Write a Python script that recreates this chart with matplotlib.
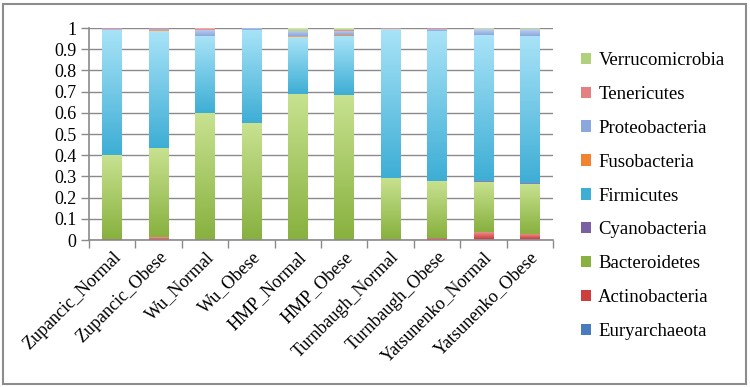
import matplotlib
matplotlib.use('Agg')
import matplotlib.pyplot as plt
import numpy as np
from matplotlib.colors import LinearSegmentedColormap
from matplotlib.patches import Rectangle, Patch

plt.rcParams['font.family'] = ['Liberation Serif', 'DejaVu Serif']

# samples (x axis)
samples = ['Zupancic_Normal', 'Zupancic_Obese', 'Wu_Normal', 'Wu_Obese',
           'HMP_Normal', 'HMP_Obese', 'Turnbaugh_Normal', 'Turnbaugh_Obese',
           'Yatsunenko_Normal', 'Yatsunenko_Obese']

# relative abundance of each phylum, bottom of the stack first
euryarchaeota = [0, 0, 0, 0, 0, 0, 0, 0, 0.003, 0.003]
actinobacteria = [0.005, 0.012, 0.002, 0.002, 0.001, 0.001, 0.004, 0.010, 0.035, 0.025]
bacteroidetes = [0.395, 0.423, 0.598, 0.548, 0.689, 0.684, 0.290, 0.270, 0.237, 0.237]
cyanobacteria = [0, 0, 0, 0, 0, 0, 0, 0, 0.002, 0.002]
firmicutes = [0.590, 0.550, 0.360, 0.440, 0.268, 0.278, 0.700, 0.705, 0.688, 0.694]
fusobacteria = [0, 0.004, 0, 0, 0.002, 0.005, 0, 0, 0.003, 0.003]
proteobacteria = [0.004, 0.006, 0.033, 0.010, 0.028, 0.020, 0.001, 0.010, 0.028, 0.030]
tenericutes = [0.006, 0.005, 0.007, 0, 0, 0.005, 0.005, 0.005, 0, 0]
verrucomicrobia = [0, 0, 0, 0, 0.010, 0.005, 0, 0, 0.004, 0.006]

phyla = ['Euryarchaeota', 'Actinobacteria', 'Bacteroidetes', 'Cyanobacteria',
         'Firmicutes', 'Fusobacteria', 'Proteobacteria', 'Tenericutes',
         'Verrucomicrobia']
values = [euryarchaeota, actinobacteria, bacteroidetes, cyanobacteria,
          firmicutes, fusobacteria, proteobacteria, tenericutes, verrucomicrobia]

# (dark bottom, light top) for the Excel-like gradient fill
colors = [('#4a7bc0', '#86abdf'),
          ('#cc3f3d', '#f09896'),
          ('#88b13f', '#c8e290'),
          ('#7a5fa3', '#a996c8'),
          ('#3eaed5', '#a8e3f7'),
          ('#f08430', '#fbbb80'),
          ('#8ba8de', '#c0d0f1'),
          ('#e2817f', '#f4bcbb'),
          ('#b0d07c', '#d9eab8')]

fig = plt.figure(figsize=(7.5, 3.87), dpi=100)
ax = fig.add_axes([0.1187, 0.3798, 0.6186, 0.5478])

x = np.arange(len(samples))
bottom = np.zeros(len(samples))
grad = np.linspace(0, 1, 64).reshape(-1, 1)
for name, vals, (dark, light) in zip(phyla, values, colors):
    bars = ax.bar(x, vals, width=0.42, bottom=bottom, color='none',
                  edgecolor='none', zorder=2)
    cmap = LinearSegmentedColormap.from_list(name, [dark, light])
    for b in bars:
        if b.get_height() <= 0:
            continue
        x0, y0 = b.get_x(), b.get_y()
        ax.imshow(grad, extent=[x0, x0 + b.get_width(), y0, y0 + b.get_height()],
                  origin='lower', aspect='auto', cmap=cmap, zorder=2,
                  interpolation='bilinear')
    bottom += np.array(vals)

ax.set_xlim(-0.5, len(samples) - 0.5)
ax.set_ylim(0, 1)
ax.set_yticks(np.arange(0, 1.01, 0.1))
ax.set_yticklabels(['0', '0.1', '0.2', '0.3', '0.4', '0.5', '0.6', '0.7',
                    '0.8', '0.9', '1'])
ax.yaxis.grid(True, color='#8a8a8a', linewidth=1, zorder=0)
ax.set_axisbelow(True)

# Excel style: tick marks between the categories, labels at the centres
ax.set_xticks(np.arange(-0.5, len(samples), 1))
ax.set_xticklabels([])
ax.set_xticks(x, minor=True)
ax.set_xticklabels(samples, minor=True, rotation=45, ha='right',
                   rotation_mode='anchor', fontsize=13)
ax.tick_params(axis='x', which='minor', length=0, pad=6)
ax.tick_params(axis='x', which='major', length=6, color='#8a8a8a', width=1)
ax.tick_params(axis='y', length=6, color='#8a8a8a', width=1, labelsize=13, pad=3)

for side in ['top', 'right']:
    ax.spines[side].set_visible(False)
for side in ['left', 'bottom']:
    ax.spines[side].set_color('#8a8a8a')
    ax.spines[side].set_linewidth(1.2)

handles = [Patch(facecolor=c[0], edgecolor='none') for c in colors]
leg = fig.legend(handles[::-1], phyla[::-1], loc='center left',
                 bbox_to_anchor=(0.774, 0.4935), frameon=False, fontsize=13.5,
                 borderaxespad=0, borderpad=0, handlelength=0.55,
                 handleheight=0.55, handletextpad=0.4, labelspacing=0.9)

# frame around the whole chart
fig.patches.append(Rectangle((0.004, 0.008), 0.99, 0.982, transform=fig.transFigure,
                             fill=False, edgecolor='#8c8c8c', linewidth=1.5))

fig.savefig('out.png', dpi=100)
